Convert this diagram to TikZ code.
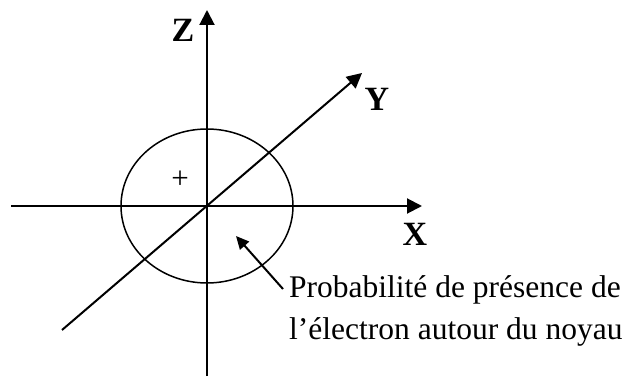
\documentclass[tikz,border=0pt]{standalone}
\usepackage{fontspec}
\setmainfont{Liberation Serif}
\usetikzlibrary{arrows.meta, positioning}
\tikzset{
  axis/.style  = {-{Triangle[length=15pt, width=15pt]}, line width=2pt},
  orbit/.style = {line width=1.5pt},
  ptr/.style   = {-{Triangle[length=13pt, width=12pt]}, line width=2pt},
  lab/.style   = {font=\fontsize{34}{40}\selectfont\bfseries, inner sep=0pt},
  note/.style  = {font=\fontsize{31.5}{42}\selectfont, align=left, inner sep=0pt}
}

\begin{document}
\begin{tikzpicture}[x=1pt, y=-1pt]
  \useasboundingbox (0,0) rectangle (630,377);
  % axes and orbital
  \coordinate (O) at (207,206);
  \coordinate (xa) at (11,206);   \coordinate (xb) at (422,206);
  \coordinate (za) at (207,376);  \coordinate (zb) at (207,10);
  \coordinate (ya) at (62,330);   \coordinate (yb) at (362,73);
  \draw[orbit] (O) ellipse [x radius=86pt, y radius=77pt];
  \draw[axis] (xa) -- (xb);
  \draw[axis] (za) -- (zb);
  \draw[axis] (ya) -- (yb);
  \node[lab] (zl) at (183,30) {Z};
  \node[lab] (yl) at (377,99) {Y};
  \node[lab] (xl) at (415,234) {X};
  \node[font=\fontsize{31}{34}\selectfont, inner sep=0pt] (plus) at (180,180) {+};
  % label of the cloud
  \node[note, anchor=west] (note) at (289,311)
    {Probabilité de présence de\\l’électron autour du noyau};
  \coordinate (tail) at (283,289);
  \coordinate (tip) at (236,236);
  \draw[ptr] (tail) -- (tip);
\end{tikzpicture}
\end{document}
